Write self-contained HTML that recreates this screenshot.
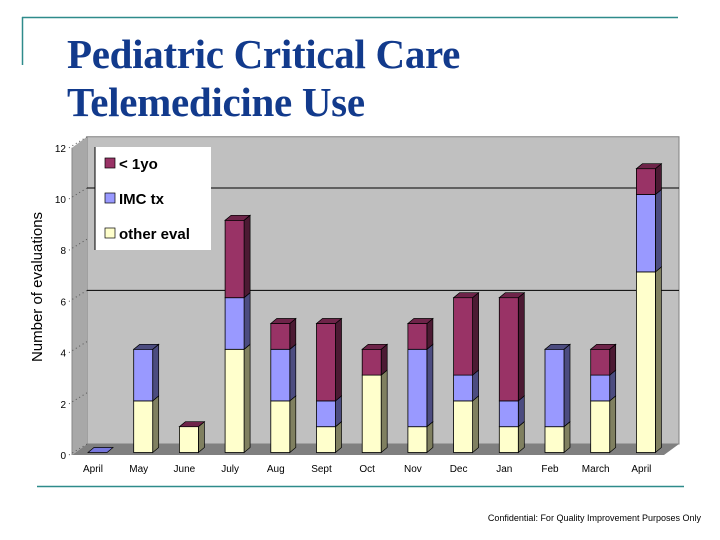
<!DOCTYPE html>
<html><head><meta charset="utf-8"><style>
body{margin:0;width:720px;height:540px;background:#fff;overflow:hidden;position:relative;font-family:"Liberation Sans",sans-serif}
.title{position:absolute;left:67px;top:30px;font-family:"Liberation Serif",serif;font-weight:bold;font-size:41px;line-height:48px;color:#123a8c;letter-spacing:-0.3px}
</style></head><body>
<svg width="720" height="540" style="position:absolute;left:0;top:0">
<line x1="22" y1="17.5" x2="678" y2="17.5" stroke="#2e8b8b" stroke-width="1.5"/>
<line x1="22.5" y1="17" x2="22.5" y2="65" stroke="#2e8b8b" stroke-width="1.5"/>
<line x1="37" y1="486.5" x2="684" y2="486.5" stroke="#2e8b8b" stroke-width="1.5"/>
</svg>
<div class="title">Pediatric Critical Care<br>Telemedicine Use</div>
<svg id="chart" width="720" height="540" style="position:absolute;left:0;top:0"></svg>
<div style="position:absolute;right:19px;top:513px;font-size:9px;color:#000">Confidential: For Quality Improvement Purposes Only</div>
<script>
const categories=["April","May","June","July","Aug","Sept","Oct","Nov","Dec","Jan","Feb","March","April"];
const otherEval=[0,2,1,4,2,1,3,1,2,1,1,2,7];
const imcTx=[0,2,0,2,2,1,0,3,1,1,3,1,3];
const under1=[0,0,0,3,1,3,1,1,3,4,0,1,1];
const yTicks=[0,2,4,6,8,10,12];
const gridVals=[6,10];
const svg=document.getElementById('chart');
const NS='http://www.w3.org/2000/svg';
function mk(t,a,p){const e=document.createElementNS(NS,t);for(const k in a)e.setAttribute(k,a[k]);(p||svg).appendChild(e);return e;}
const X0=72,Y0=455,UNIT=25.6,DX=15,DY=-11,STEP=45.7;
function y(v){return Y0-v*UNIT;}
function yb(v){return 452.5-v*25.8;}
function xc(i){return 93+i*STEP;}
let w=mk('polygon',{points:`${X0+DX},${Y0+DY} ${X0+DX},${y(12)+DY} 679,${y(12)+DY} 679,${Y0+DY}`,fill:'#c0c0c0',stroke:'#808080'});

let fl=mk('polygon',{points:`${X0},${Y0} ${X0+DX},${Y0+DY} 679,${Y0+DY} 664,${Y0}`,fill:'#808080'});

mk('polygon',{points:`${X0},${Y0} ${X0},${y(12)} ${X0+DX},${y(12)+DY} ${X0+DX},${Y0+DY}`,fill:'#a8a8a8'});
gridVals.forEach(v=>{const g=mk('line',{x1:X0+DX,x2:679,y1:y(v)+DY,y2:y(v)+DY,stroke:'#000','stroke-width':1});
});
mk('line',{x1:X0,y1:Y0,x2:X0,y2:y(12),stroke:'#888'});
yTicks.forEach(v=>{
const t=mk('text',{x:X0-6,y:y(v)+4,'font-size':10,'text-anchor':'end',fill:'#000'});t.textContent=v;

mk('line',{x1:X0-3,y1:y(v),x2:X0+DX,y2:y(v)+DY,stroke:'#555','stroke-dasharray':'1,3'});
});
const yt=mk('text',{x:0,y:0,'font-size':15,'text-anchor':'middle',transform:'translate(42,287) rotate(-90)'});
yt.textContent='Number of evaluations';
const series=[[otherEval,'#ffffcc','#808060','#ffffe0'],[imcTx,'#9999ff','#4c4c80','#7777cc'],[under1,'#993366','#4c1a33','#6e2449']];
const BW=19,BD=6,BDY=-5;
categories.forEach((c,i)=>{
const left=xc(i)-5;let base=0;
series.forEach(([arr,front,side,top],si)=>{
const v=arr[i];if(v<=0)return;
const y1=yb(base+v),y0=yb(base);
mk('polygon',{points:`${left+BW},${y0} ${left+BW+BD},${y0+BDY} ${left+BW+BD},${y1+BDY} ${left+BW},${y1}`,fill:side,stroke:'#000','stroke-width':0.7});
const r=mk('rect',{x:left,y:y1,width:BW,height:y0-y1,fill:front,stroke:'#000','stroke-width':0.8});

base+=v;
});
const tot=otherEval[i]+imcTx[i]+under1[i];
const topCol=under1[i]>0?'#6e2449':(imcTx[i]>0?'#4c4c80':(otherEval[i]>0?'#6e2449':'#5555aa'));
const ytp=yb(tot);
mk('polygon',{points:`${left},${ytp} ${left+BD},${ytp+BDY} ${left+BW+BD},${ytp+BDY} ${left+BW},${ytp}`,fill:tot===0?'#7777dd':topCol,stroke:'#000','stroke-width':0.7});
const lb=mk('text',{x:xc(i),y:472,'font-size':10,'text-anchor':'middle'});lb.textContent=c;

});
const lg=mk('g',{});
mk('rect',{x:95,y:147,width:116,height:103,fill:'#fff'},lg);
mk('line',{x1:95,y1:147,x2:95,y2:250,stroke:'#000'},lg);
[['< 1yo','#993366',164],['IMC tx','#9999ff',199],['other eval','#ffffcc',234]].forEach(([t,c,yy])=>{
const e=mk('g',{},lg);
mk('rect',{x:105,y:yy-6,width:10,height:10,fill:c,stroke:'#000','stroke-width':0.7},e);
const tx=mk('text',{x:119,y:yy+5,'font-size':15,'font-weight':'bold'},e);tx.textContent=t;
});
</script>
</body></html>
